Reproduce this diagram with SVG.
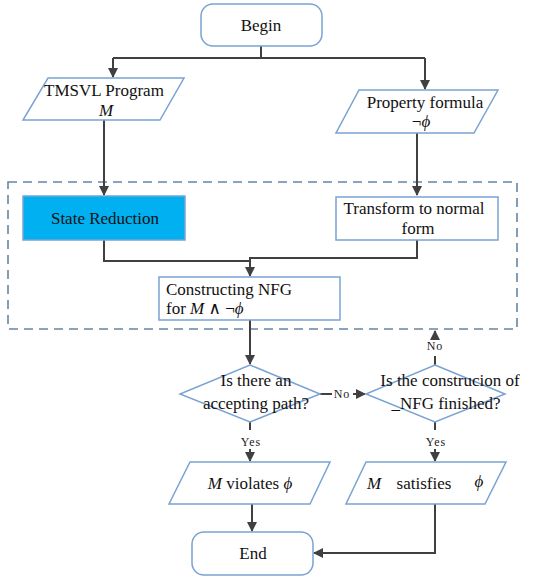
<svg xmlns="http://www.w3.org/2000/svg" width="546" height="578" viewBox="0 0 546 578" font-family="Liberation Serif, Times New Roman, DejaVu Serif, serif">
  <defs>
    <marker id="arrow" viewBox="0 0 10 10" refX="9" refY="5" markerWidth="10" markerHeight="10" markerUnits="userSpaceOnUse" orient="auto">
      <path d="M0,0 L10,5 L0,10 z" fill="#404040"/>
    </marker>
    <style>
      .node { fill: #ffffff; stroke: #7aa3d3; stroke-width: 1.5; }
      .filled { fill: #00b0f0; stroke: #7aa3d3; stroke-width: 1.5; }
      .group { fill: none; stroke: #6585a6; stroke-width: 1.6; stroke-dasharray: 9 6; }
      .edge { fill: none; stroke: #404040; stroke-width: 2; }
      .t { font-size: 17px; fill: #111; }
      .c { text-anchor: middle; }
      .lbl { font-size: 12px; fill: #222; text-anchor: middle; letter-spacing: 1px; }
      .m { font-style: italic; }
    </style>
  </defs>

  <!-- dashed boundary around NFG construction -->
  <rect class="group" x="8" y="182" width="509" height="147"/>

  <g id="connectors">
    <path class="edge" d="M261,46 V58"/>
    <path class="edge" d="M113,58 H425"/>
    <path class="edge" d="M113,58 V77" marker-end="url(#arrow)"/>
    <path class="edge" d="M425,58 V89" marker-end="url(#arrow)"/>
    <path class="edge" d="M104,120 V195" marker-end="url(#arrow)"/>
    <path class="edge" d="M417,133 V195" marker-end="url(#arrow)"/>
    <path class="edge" d="M104,240 V261 H250"/>
    <path class="edge" d="M417,240 V258 H250 V276" marker-end="url(#arrow)"/>
    <path class="edge" d="M250,320 V364" marker-end="url(#arrow)"/>
    <path class="edge" d="M320,394 H332"/>
    <path class="edge" d="M353,394 H365" marker-end="url(#arrow)"/>
    <path class="edge" d="M435,365 V356"/>
    <path class="edge" d="M435,340 V331" marker-end="url(#arrow)"/>
    <path class="edge" d="M250,422 V430"/>
    <path class="edge" d="M250,449 V461" marker-end="url(#arrow)"/>
    <path class="edge" d="M435,422 V430"/>
    <path class="edge" d="M435,449 V461" marker-end="url(#arrow)"/>
    <path class="edge" d="M252,504 V531" marker-end="url(#arrow)"/>
    <path class="edge" d="M435,504 V553 H314" marker-end="url(#arrow)"/>
    <text class="lbl" x="342" y="398">No</text>
    <text class="lbl" x="435" y="350">No</text>
    <text class="lbl" x="251" y="446">Yes</text>
    <text class="lbl" x="436" y="446">Yes</text>
  </g>

  <g id="begin">
    <rect class="node" x="201" y="4" width="121" height="42" rx="12"/>
    <text class="t c" x="261" y="31">Begin</text>
  </g>

  <g id="program">
    <polygon class="node" points="48,78 184,78 160,120 23,120"/>
    <text class="t c" x="104" y="96">TMSVL Program</text>
    <text class="t c m" x="106" y="116">M</text>
  </g>

  <g id="property">
    <polygon class="node" points="359,90 498,90 474,133 336,133"/>
    <text class="t c" x="425" y="108">Property formula</text>
    <text class="t c" x="421" y="127">¬<tspan class="m">ϕ</tspan></text>
  </g>

  <g id="state-reduction">
    <rect class="filled" x="23" y="196" width="162" height="44"/>
    <text class="t c" x="105" y="224">State Reduction</text>
  </g>

  <g id="normal-form">
    <rect class="node" x="336" y="197" width="162" height="43"/>
    <text class="t c" x="414" y="214">Transform to normal</text>
    <text class="t c" x="418" y="234">form</text>
  </g>

  <g id="constructing">
    <rect class="node" x="159" y="277" width="181" height="43"/>
    <text class="t" x="166" y="295">Constructing  NFG</text>
    <text class="t" x="166" y="314">for  <tspan class="m">M</tspan> ∧ ¬<tspan class="m">ϕ</tspan></text>
  </g>

  <g id="accepting">
    <polygon class="node" points="250,365 320,394 250,422 180,394"/>
    <text class="t c" x="256" y="386">Is there an</text>
    <text class="t c" x="256" y="409">accepting path?</text>
  </g>

  <g id="finished">
    <polygon class="node" points="435,365 505,394 435,422 366,394"/>
    <text class="t c" x="450" y="386">Is the construcion of</text>
    <text class="t c" x="446" y="409">_NFG finished?</text>
  </g>

  <g id="violates">
    <polygon class="node" points="190,462 330,462 310,504 169,504"/>
    <text class="t c" x="250" y="489"><tspan class="m">M</tspan> violates  <tspan class="m">ϕ</tspan></text>
  </g>

  <g id="satisfies">
    <polygon class="node" points="366,462 506,462 485,504 346,504"/>
    <text class="t m" x="367" y="489">M</text>
    <text class="t c" x="424" y="489">satisfies</text>
    <text class="t c m" x="479" y="487">ϕ</text>
  </g>

  <g id="end">
    <rect class="node" x="192" y="532" width="121" height="43" rx="12"/>
    <text class="t c" x="253" y="559">End</text>
  </g>
</svg>
